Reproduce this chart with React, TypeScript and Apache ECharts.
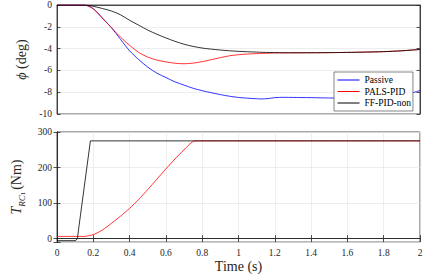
import React, { useEffect, useRef } from "react";
import * as echarts from "echarts";

// ---- Data ----
const tPhi = [0, 0.1, 0.15, 0.2, 0.25, 0.3, 0.35, 0.4, 0.45, 0.5, 0.55, 0.6, 0.65, 0.7, 0.75, 0.8, 0.85, 0.9, 0.95, 1.0, 1.05, 1.1, 1.13, 1.17, 1.2, 1.25, 1.3, 1.4, 1.5, 1.6, 1.7, 1.8, 1.9, 1.95, 2.0];
const passivePhi = [0, 0, 0, -0.35, -1.2, -2.08, -3.15, -4.2, -5.0, -5.7, -6.25, -6.65, -7.05, -7.35, -7.64, -7.86, -8.05, -8.22, -8.37, -8.48, -8.55, -8.6, -8.62, -8.57, -8.5, -8.47, -8.48, -8.5, -8.53, -8.55, -8.55, -8.52, -8.4, -8.1, -7.85];
const palsPhi = [0, 0, 0, -0.35, -1.2, -2.08, -2.95, -3.7, -4.35, -4.78, -5.05, -5.22, -5.34, -5.39, -5.33, -5.2, -5.02, -4.83, -4.66, -4.56, -4.5, -4.46, -4.44, -4.42, -4.4, -4.39, -4.39, -4.38, -4.37, -4.35, -4.32, -4.28, -4.2, -4.14, -4.08];
const ffPhi = [0, 0, 0, -0.12, -0.32, -0.55, -0.9, -1.4, -1.85, -2.3, -2.68, -3.02, -3.33, -3.6, -3.8, -3.95, -4.05, -4.13, -4.2, -4.25, -4.29, -4.32, -4.34, -4.36, -4.37, -4.38, -4.38, -4.38, -4.37, -4.35, -4.32, -4.28, -4.2, -4.14, -4.08];

const tTorquePals = [0, 0.15, 0.2, 0.25, 0.3, 0.35, 0.4, 0.45, 0.5, 0.55, 0.6, 0.65, 0.7, 0.76, 2.0];
const palsTorque = [6, 6, 11, 24, 43, 63, 85, 110, 138, 167, 196, 224, 250, 275, 275];
const tTorqueFF = [0, 0.1, 0.107, 0.113, 0.12, 0.184, 2.0];
const ffTorque = [-6, -6, -4, 2, 30, 275, 275];

const seriesNames = ["Passive", "PALS-PID", "FF-PID-non"];
const seriesColors = ["#0000ff", "#ff0000", "#000000"];

const FONT = "Liberation Serif, Times New Roman, DejaVu Serif, serif";
const AXIS_COLOR = "#262626";
const GRID_COLOR = "#e6e6e6";

const pairs = (xs: number[], ys: number[]) => xs.map((x, i) => [x, ys[i]]);

export default function App() {
  const ref = useRef<HTMLDivElement>(null);
  useEffect(() => {
    if (!ref.current) return;
    const chart = echarts.init(ref.current, null, { renderer: "svg" });
    const axisLine = { show: true, lineStyle: { color: AXIS_COLOR, width: 0.8 } };
    const tick = { show: true, inside: true, length: 3.5, lineStyle: { color: AXIS_COLOR, width: 0.8 } };
    const label = { color: AXIS_COLOR, fontSize: 9.5, fontFamily: FONT, fontWeight: 400 };
    const split = { show: true, lineStyle: { color: GRID_COLOR, width: 0.7 } };
    const gridBase = { left: 57, right: 16, show: true, borderColor: AXIS_COLOR, borderWidth: 0.8, backgroundColor: "rgba(0,0,0,0)" };

    const lineSeries = (name: string, color: string, data: number[][], xi: number, yi: number, smooth: number | boolean) => ({
      type: "line",
      name,
      xAxisIndex: xi,
      yAxisIndex: yi,
      data,
      symbol: "none",
      smooth,
      lineStyle: { color, width: 0.8 },
      itemStyle: { color },
    });

    chart.setOption({
      animation: false,
      textStyle: { fontFamily: FONT, fontWeight: 400 },
      grid: [
        { ...gridBase, top: 4, height: 110 },
        { ...gridBase, top: 132, height: 111 },
      ],
      legend: {
        left: 334,
        top: 72,
        orient: "vertical",
        itemWidth: 22,
        itemHeight: 9,
        itemGap: 1.5,
        padding: [3, 2, 3, 3],
        backgroundColor: "#ffffff",
        borderColor: "#333333",
        borderWidth: 0.6,
        itemStyle: { opacity: 0 },
        lineStyle: { width: 1 },
        textStyle: { fontSize: 9.5, fontFamily: FONT, fontWeight: 400, color: "#000" },
        data: seriesNames,
      },
      xAxis: [
        { type: "value", gridIndex: 0, min: 0, max: 2, interval: 0.2, axisLine, axisTick: { show: false }, axisLabel: { show: false }, splitLine: { show: false } },
        {
          type: "value", gridIndex: 1, min: 0, max: 2, interval: 0.2, axisLine, axisTick: tick,
          axisLabel: { ...label, margin: 6 }, splitLine: split,
          name: "Time (s)", nameLocation: "middle", nameGap: 15,
          nameTextStyle: { fontSize: 14, fontFamily: FONT, fontWeight: 400, color: AXIS_COLOR },
        },
        { type: "value", gridIndex: 1, position: "top", min: 0, max: 2, interval: 0.2, axisLine, axisTick: tick, axisLabel: { show: false }, splitLine: { show: false } },
      ],
      yAxis: [
        {
          type: "value", gridIndex: 0, min: -10, max: 0, interval: 2, axisLine, axisTick: tick,
          axisLabel: { ...label, margin: 5 }, splitLine: split,
          name: "{i|ϕ} (deg)", nameLocation: "middle", nameGap: 22,
          nameTextStyle: { fontSize: 14, fontFamily: FONT, fontWeight: 400, color: AXIS_COLOR, rich: { i: { fontStyle: "italic", fontSize: 14, fontFamily: FONT, fontWeight: 400, color: AXIS_COLOR } } },
        },
        { type: "value", gridIndex: 0, position: "right", min: -10, max: 0, interval: 2, axisLine, axisTick: tick, axisLabel: { show: false }, splitLine: { show: false } },
        {
          type: "value", gridIndex: 1, min: -10, max: 300, splitNumber: 3, axisLine, axisTick: tick,
          axisLabel: { ...label, margin: 5, formatter: (v: number) => (v < 0 ? "" : String(v)) }, splitLine: split,
          name: "{t|T}{s|RC}{ss|1}{n|(Nm)}", nameLocation: "middle", nameGap: 22,
          nameTextStyle: {
            fontSize: 14, fontFamily: FONT, fontWeight: 400, color: AXIS_COLOR,
            rich: {
              t: { fontStyle: "italic", fontSize: 14, fontFamily: FONT, fontWeight: 400, color: AXIS_COLOR },
              s: { fontStyle: "italic", fontSize: 9, fontFamily: FONT, fontWeight: 400, color: AXIS_COLOR, verticalAlign: "bottom", lineHeight: 19 },
              ss: { fontSize: 7, fontFamily: FONT, fontWeight: 400, color: AXIS_COLOR, verticalAlign: "bottom", lineHeight: 21 },
              n: { fontSize: 14, fontFamily: FONT, fontWeight: 400, color: AXIS_COLOR, padding: [0, 0, 0, 2] },
            },
          },
        },
        { type: "value", gridIndex: 1, position: "right", min: -10, max: 300, splitNumber: 3, axisLine, axisTick: tick, axisLabel: { show: false }, splitLine: { show: false } },
      ],
      series: [
        lineSeries(seriesNames[0], seriesColors[0], pairs(tPhi, passivePhi), 0, 0, 0.3),
        lineSeries(seriesNames[1], seriesColors[1], pairs(tPhi, palsPhi), 0, 0, 0.3),
        lineSeries(seriesNames[2], seriesColors[2], pairs(tPhi, ffPhi), 0, 0, 0.3),
        lineSeries(seriesNames[1], seriesColors[1], pairs(tTorquePals, palsTorque), 1, 2, 0.2),
        lineSeries(seriesNames[2], seriesColors[2], pairs(tTorqueFF, ffTorque), 1, 2, false),
      ],
    });
    return () => chart.dispose();
  }, []);
  return <div ref={ref} style={{ position: "fixed", left: 0, top: 0, width: 436, height: 274, background: "#fff" }} />;
}
